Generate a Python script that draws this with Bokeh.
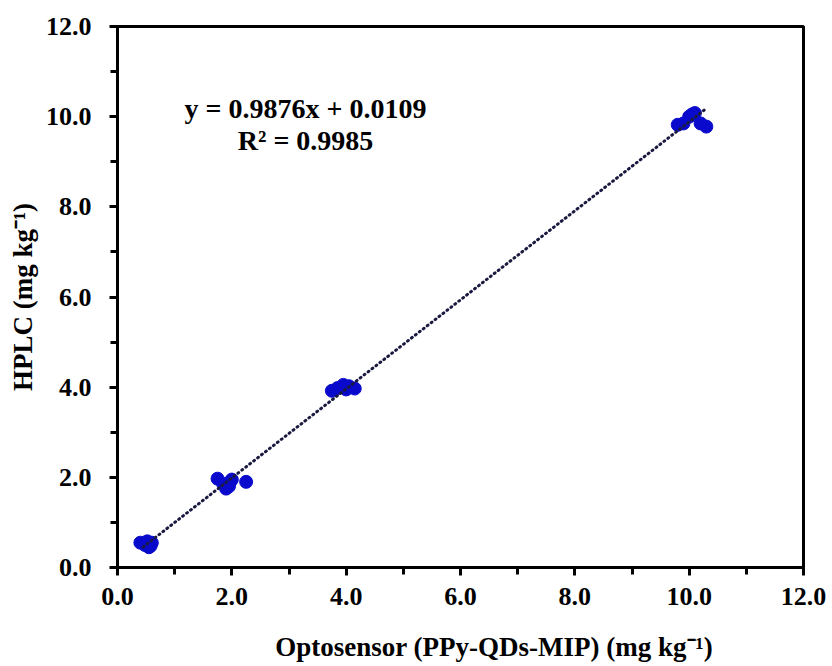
from bokeh.plotting import figure
from bokeh.models import SingleIntervalTicker, NumeralTickFormatter, Label, Range1d
from bokeh.embed import file_html
from bokeh.resources import INLINE

# Data
optosensor = [0.40, 0.48, 0.55, 0.60, 0.52, 0.58,
              1.75, 1.85, 1.90, 1.95, 2.00, 1.97, 2.25,
              3.75, 3.85, 3.95, 4.00, 4.05, 4.15,
              9.80, 9.90, 10.00, 10.05, 10.10, 10.20, 10.30]
hplc = [0.55, 0.50, 0.45, 0.55, 0.58, 0.48,
        1.97, 1.85, 1.75, 1.80, 1.95, 1.90, 1.90,
        3.92, 3.98, 4.05, 3.95, 4.02, 3.97,
        9.82, 9.85, 10.00, 10.05, 10.08, 9.85, 9.78]
slope = 0.9876
intercept = 0.0109
r2 = 0.9985
trend_x = [0.45, 10.3]
trend_y = [slope * v + intercept for v in trend_x]
x_title = "Optosensor (PPy-QDs-MIP) (mg kg\u207b\u00b9)"
y_title = "HPLC (mg kg\u207b\u00b9)"

FONT = "Liberation Serif"

p = figure(frame_width=686, frame_height=541, width=832, height=666,
           x_range=Range1d(0, 12), y_range=Range1d(0, 12),
           output_backend="svg", toolbar_location=None,
           min_border_left=117, min_border_right=29, min_border_top=26, min_border_bottom=99)
p.background_fill_color = "white"
p.border_fill_color = "white"
p.grid.visible = False
p.outline_line_color = "black"
p.outline_line_width = 3
p.outline_line_alpha = 1.0

for ax in (p.xaxis[0], p.yaxis[0]):
    ax.ticker = SingleIntervalTicker(interval=2, num_minor_ticks=2)
    ax.formatter = NumeralTickFormatter(format="0.0")
    ax.axis_line_width = 3
    ax.axis_line_color = "black"
    ax.major_tick_line_width = 3
    ax.minor_tick_line_width = 3
    ax.major_tick_out = 8
    ax.major_tick_in = 0
    ax.minor_tick_out = 7
    ax.minor_tick_in = 0
    ax.major_label_text_font = FONT
    ax.major_label_text_font_style = "bold"
    ax.major_label_text_font_size = "26px"
    ax.major_label_text_color = "black"
    ax.axis_label_text_font = FONT
    ax.axis_label_text_font_style = "bold"
    ax.axis_label_text_font_size = "27px"
    ax.axis_label_text_color = "black"

# leading no-break spaces shift the title slightly right of centre, as in the original
p.xaxis.axis_label = "\u00a0" * 10 + x_title
p.yaxis.axis_label = y_title
p.xaxis.major_label_standoff = 12
p.xaxis.axis_label_standoff = 24
p.yaxis.major_label_standoff = 18
p.yaxis.axis_label_standoff = 5

p.scatter(optosensor, hplc, size=13, fill_color="#0a0acd", line_color="#0a0acd")
p.line(trend_x, trend_y, line_color="#1a1a40", line_width=3, line_dash="1 4", line_cap="round")

p.add_layout(Label(x=3.29, y=10.18, text=f"y = {slope}x + {intercept}",
                   text_font=FONT, text_font_style="bold", text_font_size="28px",
                   text_align="center", text_baseline="middle", text_color="black"))
p.add_layout(Label(x=3.29, y=9.47, text=f"R\u00b2 = {r2}",
                   text_font=FONT, text_font_style="bold", text_font_size="28px",
                   text_align="center", text_baseline="middle", text_color="black"))

open("out.html", "w").write(file_html(p, INLINE))
